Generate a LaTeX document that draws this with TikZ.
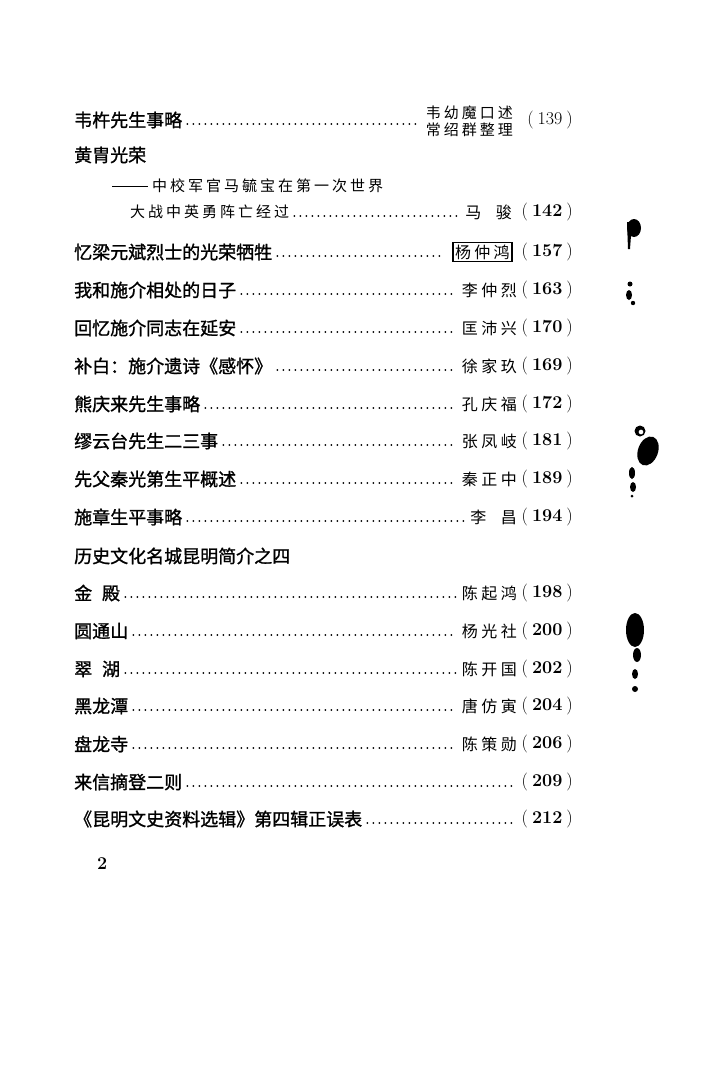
\documentclass[tikz,border=0pt]{standalone}
\usepackage{fontspec}
\usepackage{tikz}
\usetikzlibrary{calc}
\newfontfamily\cjk[FakeBold=1.2]{Noto Sans CJK SC}
\newfontfamily\cjksp[LetterSpace=20]{Noto Sans CJK SC}
\newfontfamily\cjkau[LetterSpace=22]{Noto Sans CJK SC}
\tikzset{
  headline/.style={anchor=west, inner sep=0pt, font=\cjk\fontsize{18}{18}\selectfont},
  subline/.style={anchor=west, inner sep=0pt, font=\cjksp\fontsize{15}{15}\selectfont},
  authorname/.style={anchor=east, inner sep=0pt, font=\cjkau\fontsize{16}{18}\selectfont},
  pagenum/.style={anchor=east, inner sep=0pt, font=\fontsize{18}{18}\selectfont},
  leaderdots/.style={line width=2pt, line cap=round, dash pattern=on 0pt off 6pt},
  inkblot/.style={fill=black, draw=none}
}
\def\pg#1{(\hspace{4pt}\textbf{#1}\hspace{4pt})}

\begin{document}
\begin{tikzpicture}[x=1pt, y=-1pt]
		%%%%% START %%%%%
		
		\fill[white] (0, 0) rectangle (701, 1085);
		\useasboundingbox (0, 0) rectangle (701, 1085);
		
		% first entry, two authors
		\node[headline] (t1) at (74, 120) {韦杵先生事略};
		\node[authorname, align=center, font=\cjksp\fontsize{15}{17}\selectfont] (a1) at (513, 121) {韦幼魔口述\\常绍群整理};
		\node[pagenum] (p1) at (573, 120) {(\hspace{4pt}139\hspace{4pt})};
		\draw[leaderdots] ([xshift=5pt, yshift=-4pt]t1.east) -- ($(t1.east -| a1.west)+(-5, 4)$);
		
		\node[headline] (t2) at (74, 155) {黄胄光荣};
		\node[subline] (t3) at (112, 186) {\rule[5pt]{36pt}{0.9pt}\hspace{4pt}中校军官马毓宝在第一次世界};
		\node[subline] (t4) at (130, 212) {大战中英勇阵亡经过};
		\node[authorname] (a4) at (512, 212) {马\hspace{0.9em}骏};
		\node[pagenum] (p4) at (573, 212) {\pg{142}};
		\draw[leaderdots] ([xshift=5pt, yshift=-4pt]t4.east) -- ($(t4.east -| a4.west)+(-5, 4)$);
		
		% boxed author
		\node[headline] (t5) at (74, 252) {忆梁元斌烈士的光荣牺牲};
		\node[authorname, anchor=east, draw, line width=0.8pt, inner sep=2pt, font=\cjksp\fontsize{16}{16}\selectfont] (a5) at (512, 252) {杨仲鸿};
		\draw[line width=2pt] (a5.north west) -- (a5.south west);
		\draw[line width=2pt] (a5.north east) -- (a5.south east);
		\node[pagenum] (p5) at (573, 252) {\pg{157}};
		\draw[leaderdots] ([xshift=5pt, yshift=-4pt]t5.east) -- ($(t5.east -| a5.west)+(-8, 4)$);
		
		\node[headline] (t6) at (74, 290) {我和施介相处的日子};
		\node[authorname] (a6) at (517, 290) {李仲烈};
		\node[pagenum] (p6) at (573, 290) {\pg{163}};
		\draw[leaderdots] ([xshift=5pt, yshift=-4pt]t6.east) -- ($(t6.east -| a6.west)+(-5, 4)$);
		
		\node[headline] (t7) at (74, 328) {回忆施介同志在延安};
		\node[authorname] (a7) at (517, 328) {匡沛兴};
		\node[pagenum] (p7) at (573, 328) {\pg{170}};
		\draw[leaderdots] ([xshift=5pt, yshift=-4pt]t7.east) -- ($(t7.east -| a7.west)+(-5, 4)$);
		
		\node[headline] (t8) at (74, 366) {补白：施介遗诗《感怀》};
		\node[authorname] (a8) at (517, 366) {徐家玖};
		\node[pagenum] (p8) at (573, 366) {\pg{169}};
		\draw[leaderdots] ([xshift=5pt, yshift=-4pt]t8.east) -- ($(t8.east -| a8.west)+(-5, 4)$);
		
		\node[headline] (t9) at (74, 404) {熊庆来先生事略};
		\node[authorname] (a9) at (517, 404) {孔庆福};
		\node[pagenum] (p9) at (573, 404) {\pg{172}};
		\draw[leaderdots] ([xshift=5pt, yshift=-4pt]t9.east) -- ($(t9.east -| a9.west)+(-5, 4)$);
		
		\node[headline] (t10) at (74, 441) {缪云台先生二三事};
		\node[authorname] (a10) at (517, 441) {张凤岐};
		\node[pagenum] (p10) at (573, 441) {\pg{181}};
		\draw[leaderdots] ([xshift=5pt, yshift=-4pt]t10.east) -- ($(t10.east -| a10.west)+(-5, 4)$);
		
		\node[headline] (t11) at (74, 479) {先父秦光第生平概述};
		\node[authorname] (a11) at (517, 479) {秦正中};
		\node[pagenum] (p11) at (573, 479) {\pg{189}};
		\draw[leaderdots] ([xshift=5pt, yshift=-4pt]t11.east) -- ($(t11.east -| a11.west)+(-5, 4)$);
		
		\node[headline] (t12) at (74, 517) {施章生平事略};
		\node[authorname] (a12) at (517, 517) {李\hspace{0.9em}昌};
		\node[pagenum] (p12) at (573, 517) {\pg{194}};
		\draw[leaderdots] ([xshift=5pt, yshift=-4pt]t12.east) -- ($(t12.east -| a12.west)+(-5, 4)$);
		
		% series heading
		\node[headline] (t13) at (74, 556) {历史文化名城昆明简介之四};
		
		\node[headline] (t14) at (74, 593) {金\hspace{0.55em}殿};
		\node[authorname] (a14) at (517, 593) {陈起鸿};
		\node[pagenum] (p14) at (573, 593) {\pg{198}};
		\draw[leaderdots] ([xshift=5pt, yshift=-4pt]t14.east) -- ($(t14.east -| a14.west)+(-5, 4)$);
		
		\node[headline] (t15) at (74, 631) {圆通山};
		\node[authorname] (a15) at (517, 631) {杨光社};
		\node[pagenum] (p15) at (573, 631) {\pg{200}};
		\draw[leaderdots] ([xshift=5pt, yshift=-4pt]t15.east) -- ($(t15.east -| a15.west)+(-5, 4)$);
		
		\node[headline] (t16) at (74, 669) {翠\hspace{0.55em}湖};
		\node[authorname] (a16) at (517, 669) {陈开国};
		\node[pagenum] (p16) at (573, 669) {\pg{202}};
		\draw[leaderdots] ([xshift=5pt, yshift=-4pt]t16.east) -- ($(t16.east -| a16.west)+(-5, 4)$);
		
		\node[headline] (t17) at (74, 706) {黑龙潭};
		\node[authorname] (a17) at (517, 706) {唐仿寅};
		\node[pagenum] (p17) at (573, 706) {\pg{204}};
		\draw[leaderdots] ([xshift=5pt, yshift=-4pt]t17.east) -- ($(t17.east -| a17.west)+(-5, 4)$);
		
		\node[headline] (t18) at (74, 744) {盘龙寺};
		\node[authorname] (a18) at (517, 744) {陈策勋};
		\node[pagenum] (p18) at (573, 744) {\pg{206}};
		\draw[leaderdots] ([xshift=5pt, yshift=-4pt]t18.east) -- ($(t18.east -| a18.west)+(-5, 4)$);
		
		% no author
		\node[headline] (t19) at (74, 782) {来信摘登二则};
		\node[pagenum] (p19) at (573, 782) {\pg{209}};
		\draw[leaderdots] ([xshift=5pt, yshift=-4pt]t19.east) -- ($(t19.east -| p19.west)+(-5, 4)$);
		
		\node[headline] (t20) at (74, 819) {《昆明文史资料选辑》第四辑正误表};
		\node[pagenum] (p20) at (573, 819) {\pg{212}};
		\draw[leaderdots] ([xshift=5pt, yshift=-4pt]t20.east) -- ($(t20.east -| p20.west)+(-5, 4)$);
		
		\node[pagenum, anchor=west] (folio) at (97, 864) {\textbf{2}};
		
		% ink marks in the margin
		\fill[inkblot] (634, 228) ellipse (7 and 9);
		\fill[inkblot] (627, 222) -- (632, 222) -- (630, 249) -- (628, 249) -- cycle;
		\fill[inkblot] (630, 284) circle (2.5);
		\fill[inkblot] (629, 295) ellipse (3 and 5);
		\fill[inkblot] (633, 303) circle (2.2);
		\fill[inkblot, even odd rule] (640, 431) circle (5.5) (641, 432) circle (2.5);
		\fill[inkblot, rotate around={-20:(648, 451)}] (648, 451) ellipse (10 and 15);
		\fill[inkblot] (632, 473) ellipse (3 and 6);
		\fill[inkblot] (633, 487) ellipse (3 and 5);
		\fill[inkblot] (632, 496) circle (1.5);
		\fill[inkblot] (635, 630) ellipse (9 and 17);
		\fill[inkblot] (637, 655) ellipse (4 and 7);
		\fill[inkblot] (635, 674) ellipse (3 and 5);
		\fill[inkblot] (635, 689) circle (3);
		
		%%%%% END %%%%%
	\end{tikzpicture}
\end{document}
